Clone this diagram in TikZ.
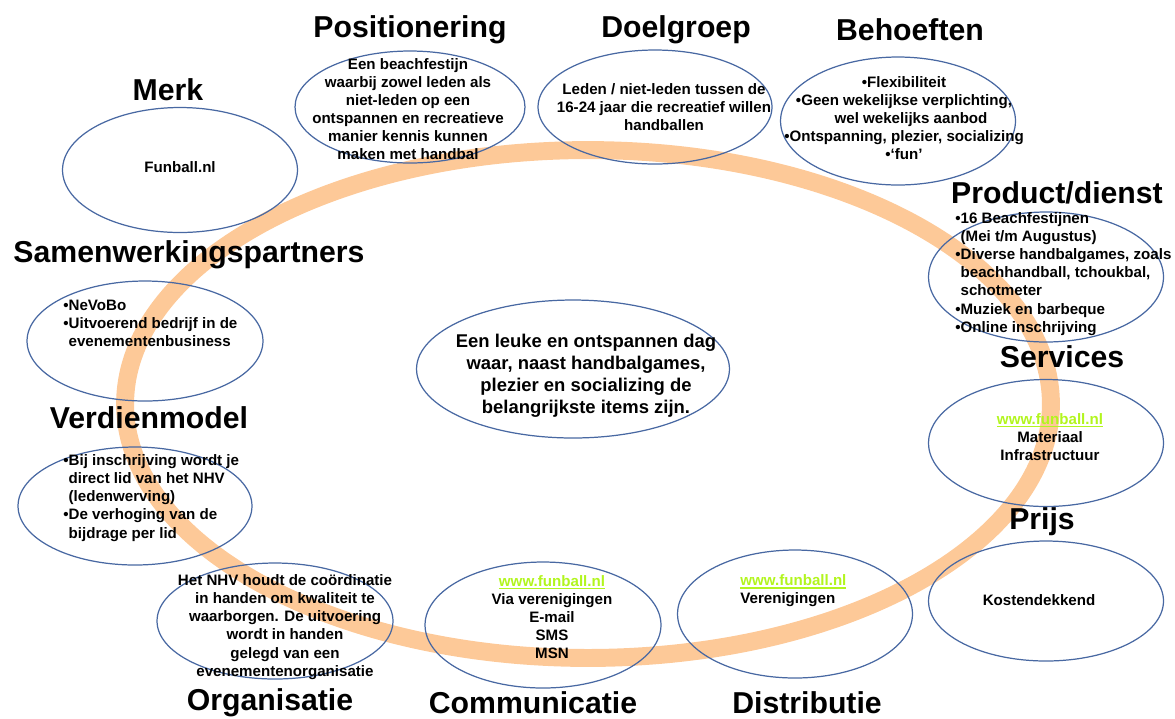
\documentclass[tikz,border=0pt]{standalone}
\usepackage{fontspec}
\setmainfont{Liberation Sans}
\definecolor{RingOranje}{RGB}{253, 201, 152}
\definecolor{OvaalBlauw}{RGB}{72, 104, 162}
\definecolor{LinkGroen}{RGB}{178, 245, 30}
\usetikzlibrary{shapes.geometric, positioning}
\newcommand{\funlink}{\textcolor{LinkGroen}{\sbox0{www.funball.nl}\rlap{\rule[-1.8pt]{\wd0}{1pt}}\usebox0}}
\newcommand{\bul}{\phantom{•}}

\begin{document}
\begin{tikzpicture}[
        x=0.02cm, y=-0.02cm,
        ring/.style={ellipse, draw=RingOranje, line width=10.2pt, inner sep=0pt},
        ovaal/.style={ellipse, draw=OvaalBlauw, line width=0.7pt, inner sep=0pt, minimum width=4.7cm, minimum height=2.5cm},
        titel/.style={font=\fontsize{17.2}{20}\selectfont\bfseries, inner sep=0pt},
        tekst/.style={font=\fontsize{8.6}{10.3}\selectfont\bfseries, align=center, inner sep=0pt},
        lijst/.style={tekst, align=left, anchor=west}
    ]
        \useasboundingbox (0,0) rectangle (1175,718);

        % oranje ring
        \node [ring, minimum width=18.52cm, minimum height=10.16cm] (ring) at (588,404) {};

        % ovalen
        \node [ovaal, minimum height=2.5cm] (merk) at (180,170) {};
        \node [ovaal, minimum width=4.6cm, minimum height=2.24cm] (positie) at (410,107) {};
        \node [ovaal, minimum width=4.68cm, minimum height=2.28cm] (doelgroep) at (655,107) {};
        \node [ovaal, minimum height=2.56cm] (behoefte) at (898,121) {};
        \node [ovaal, minimum height=2.6cm] (product) at (1046,277) {};
        \node [ovaal, minimum width=4.72cm, minimum height=2.4cm] (partners) at (145,341) {};
        \node [ovaal, minimum width=6.26cm, minimum height=2.76cm] (kern) at (573,369) {};
        \node [ovaal, minimum height=2.54cm] (services) at (1046,443) {};
        \node [ovaal, minimum width=4.68cm, minimum height=2.36cm] (verdien) at (135,506) {};
        \node [ovaal, minimum height=2.4cm] (prijs) at (1046,601) {};
        \node [ovaal, minimum width=4.72cm, minimum height=2.32cm] (organisatie) at (275,621) {};
        \node [ovaal, minimum width=4.72cm, minimum height=2.52cm] (communicatie) at (543,625) {};
        \node [ovaal, minimum height=2.56cm] (distributie) at (795,614) {};

        % titels
        \node [titel] (t-merk) at (168,90) {Merk};
        \node [titel] (t-positie) at (410,30) {Positionering};
        \node [titel] (t-doelgroep) at (676,30) {Doelgroep};
        \node [titel] (t-behoefte) at (910,30) {Behoeften};
        \node [titel] (t-product) at (1057,193) {Product/dienst};
        \node [titel] (t-partners) at (189,255) {Samenwerkingspartners};
        \node [titel] (t-services) at (1062,357) {Services};
        \node [titel] (t-verdien) at (149,418) {Verdienmodel};
        \node [titel] (t-prijs) at (1042,522) {Prijs};
        \node [titel] (t-organisatie) at (270,703) {Organisatie};
        \node [titel] (t-communicatie) at (533,703) {Communicatie};
        \node [titel] (t-distributie) at (807,703) {Distributie};

        % teksten
        \node [tekst] (x-merk) at (180,167) {Funball.nl};
        \node [tekst] (x-positie) at (408,109) {Een beachfestijn\\waarbij zowel leden als\\niet-leden op een\\ontspannen en recreatieve\\manier kennis kunnen\\maken met handbal};
        \node [tekst] (x-doelgroep) at (664,107) {Leden / niet-leden tussen de\\16-24 jaar die recreatief willen\\handballen};
        \node [tekst] (x-behoefte) at (904,118) {•Flexibiliteit\\•Geen wekelijkse verplichting,\\\hspace*{8pt}wel wekelijks aanbod\\•Ontspanning, plezier, socializing\\•‘fun’};
        \node [lijst] (x-product) at (955,274) {•16 Beachfestijnen\\\bul(Mei t/m Augustus)\\•Diverse handbalgames, zoals\\\bul beachhandball, tchoukbal,\\\bul schotmeter\\•Muziek en barbeque\\•Online inschrijving};
        \node [lijst] (x-partners) at (63,323) {•NeVoBo\\•Uitvoerend bedrijf in de\\\bul evenementenbusiness};
        \node [tekst, font=\fontsize{10.5}{12.6}\selectfont\bfseries] (x-kern) at (586,376) {Een leuke en ontspannen dag\\waar, naast handbalgames,\\plezier en socializing de\\belangrijkste items zijn.};
        \node [tekst] (x-services) at (1050,437) {\funlink\\Materiaal\\Infrastructuur};
        \node [lijst] (x-verdien) at (63,498) {•Bij inschrijving wordt je\\\bul direct lid van het NHV\\\bul(ledenwerving)\\•De verhoging van de\\\bul bijdrage per lid};
        \node [tekst] (x-prijs) at (1039,600) {Kostendekkend};
        \node [tekst] (x-organisatie) at (285,627) {Het NHV houdt de coördinatie\\in handen om kwaliteit te\\waarborgen. De uitvoering\\wordt in handen\\gelegd van een\\evenementenorganisatie};
        \node [tekst] (x-communicatie) at (552,617) {\funlink\\Via verenigingen\\E-mail\\SMS\\MSN};
        \node [lijst] (x-distributie) at (740,591) {\funlink\\Verenigingen};
    \end{tikzpicture}
\end{document}
